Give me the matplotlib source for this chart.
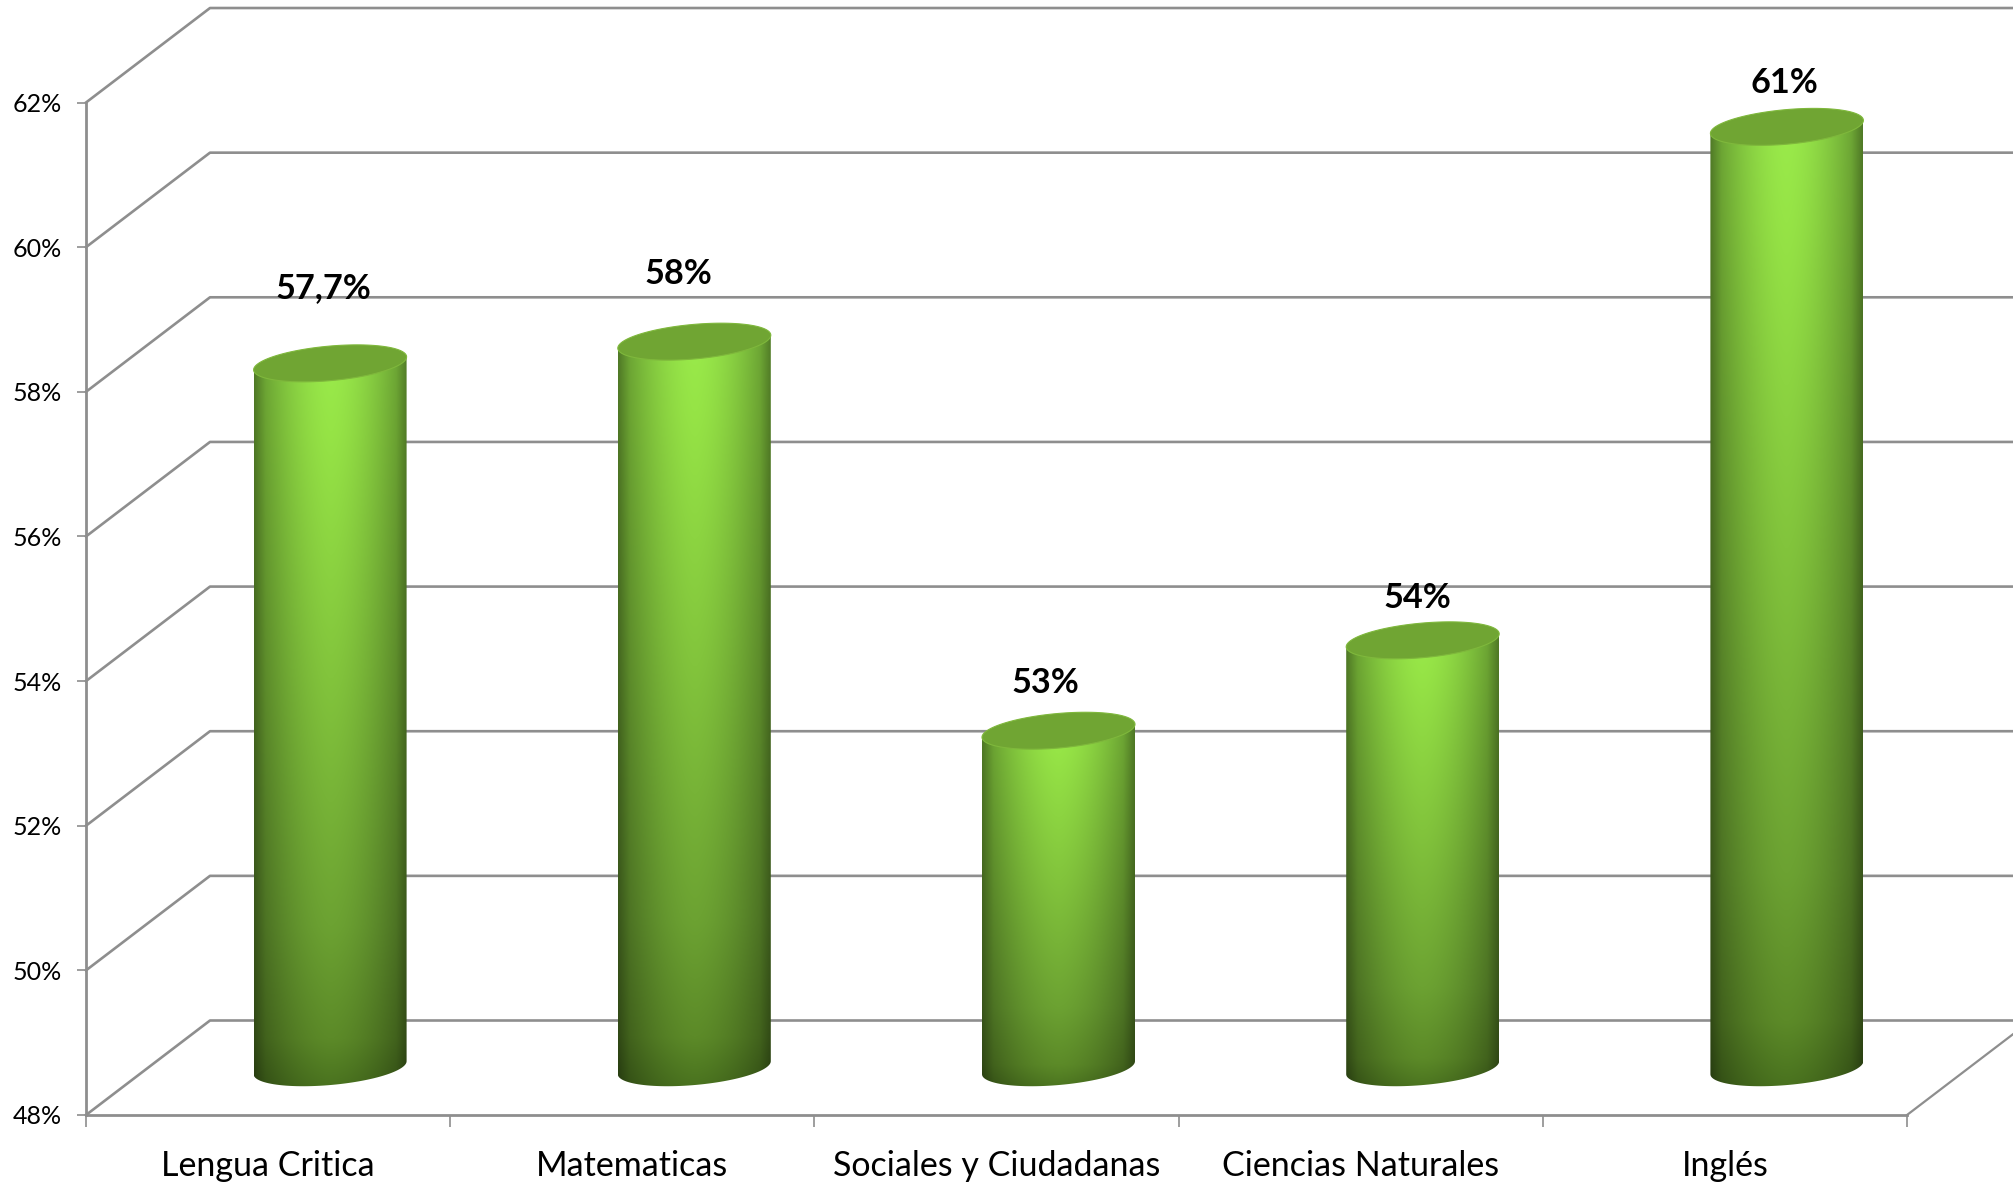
import numpy as np
import matplotlib
matplotlib.use("Agg")
import matplotlib.pyplot as plt
from matplotlib.patches import PathPatch, Polygon
from matplotlib.path import Path

categories = ["Lengua Critica", "Matematicas", "Sociales y Ciudadanas", "Ciencias Naturales", "Inglés"]
values = [57.74, 58.04, 52.66, 53.91, 61.01]
value_labels = ["57,7%", "58%", "53%", "54%", "61%"]
y_ticks = [48, 50, 52, 54, 56, 58, 60, 62]

# hand placed labels in the original, offset from the top of each cylinder
label_dx = [-0.018, -0.044, -0.037, -0.014, -0.006]
label_dy = [1.04, 0.934, 0.657, 0.584, 0.604]

plt.rcParams['font.family'] = ['Lato', 'DejaVu Sans']

W, H = 2013, 1182
x0_px, y48_px = 86, 1115
cat_px = 364.2
pct_px = 72.32

# depth of the fake 3d box, in data units
depth_x = 124 / cat_px
depth_y = 94.5 / pct_px
bar_w = 153 / cat_px
ell_b = 17.3 / pct_px
ell_k = 6.5 / pct_px
grid_col = "#8e8e8e"

fig = plt.figure(figsize=(W / 100, H / 100), dpi=100)
ax = fig.add_axes([0, 0, 1, 1])
xlim = (-x0_px / cat_px, (W - x0_px) / cat_px)
ylim = (48 - (H - y48_px) / pct_px, 48 + y48_px / pct_px)

# back wall and side wall lines
for v in y_ticks:
    ax.plot([0, depth_x, xlim[1]], [v, v + depth_y, v + depth_y], color=grid_col, lw=1.9, zorder=1)
ax.plot([5, 5 + depth_x], [48, 48 + depth_y], color=grid_col, lw=1.6, zorder=1)


def ellipse(cx, cy, t):
    x = cx + bar_w / 2 * np.cos(t)
    y = cy + ell_b * np.sin(t) + ell_k * np.cos(t)
    return x, y


# shading of the cylinder side: vertical ramp times horizontal falloff
ramp_t = [0, 0.12, 0.45, 0.78, 0.93, 1]
ramp_r = [155, 150, 130, 108, 92, 72]
ramp_g = [236, 228, 196, 162, 138, 112]
ramp_b = [76, 70, 60, 50, 40, 30]
tt = np.linspace(0, 1, 300)
uu = np.linspace(-1, 1, 200)
falloff = 1 - 0.38 * np.abs(uu) ** 1.7
falloff[np.abs(uu) > 0.85] -= 0.10 * (np.abs(uu[np.abs(uu) > 0.85]) - 0.85) / 0.15
shade = np.zeros((300, 200, 3))
shade[:, :, 0] = np.outer(np.interp(tt, ramp_t, ramp_r), falloff)
shade[:, :, 1] = np.outer(np.interp(tt, ramp_t, ramp_g), falloff)
shade[:, :, 2] = np.outer(np.interp(tt, ramp_t, ramp_b), falloff)
shade = shade / 255

for i, val in enumerate(values):
    cx = i + 0.5 + depth_x / 2
    base = 48 + depth_y / 2
    top = val

    # side of the cylinder, round at the bottom
    bx, by = ellipse(cx, base, np.linspace(np.pi, 2 * np.pi, 60))
    tx, ty = ellipse(cx, top + depth_y / 2, np.array([0, np.pi]))
    px = np.r_[bx, tx]
    py = np.r_[by, ty]
    clip = PathPatch(Path(np.c_[px, py]), transform=ax.transData, fc="none", ec="none")
    ax.add_patch(clip)
    im = ax.imshow(shade, extent=(cx - bar_w / 2, cx + bar_w / 2, base - ell_b - ell_k, top + depth_y / 2 + ell_k + ell_b),
                   aspect="auto", origin="upper", interpolation="bilinear", zorder=2)
    im.set_clip_path(clip)

    # flat top
    ex, ey = ellipse(cx, top + depth_y / 2, np.linspace(0, 2 * np.pi, 120))
    ax.add_patch(Polygon(np.c_[ex, ey], closed=True, fc="#70a533", ec="#7fb83c", lw=0.8, zorder=3))

    ax.text(cx + label_dx[i], top + depth_y / 2 + label_dy[i], value_labels[i], ha="center", va="center",
            fontsize=24.7, fontweight="bold", color="black", zorder=5)

ax.set_xlim(xlim)
ax.set_ylim(ylim)

for side in ["top", "right"]:
    ax.spines[side].set_visible(False)
ax.spines["left"].set_position(("data", 0))
ax.spines["left"].set_bounds(48, 62)
ax.spines["bottom"].set_position(("data", 48))
ax.spines["bottom"].set_bounds(0, 5)
for side in ["left", "bottom"]:
    ax.spines[side].set_color(grid_col)
    ax.spines[side].set_linewidth(2.0)
    ax.spines[side].set_zorder(1)

ax.set_yticks(y_ticks)
ax.set_yticklabels([str(v) + "%" for v in y_ticks])
ax.tick_params(axis="y", length=6.5, width=1.2, color=grid_col, pad=11, labelsize=18)

ax.set_xticks(range(6))
ax.set_xticklabels([])
ax.set_xticks(np.arange(5) + 0.5, minor=True)
ax.set_xticklabels(categories, minor=True)
ax.tick_params(axis="x", which="major", length=8.5, width=1.2, color=grid_col)
ax.tick_params(axis="x", which="minor", length=0, pad=25, labelsize=24.5)

fig.savefig("out.png", dpi=100, facecolor="white")
